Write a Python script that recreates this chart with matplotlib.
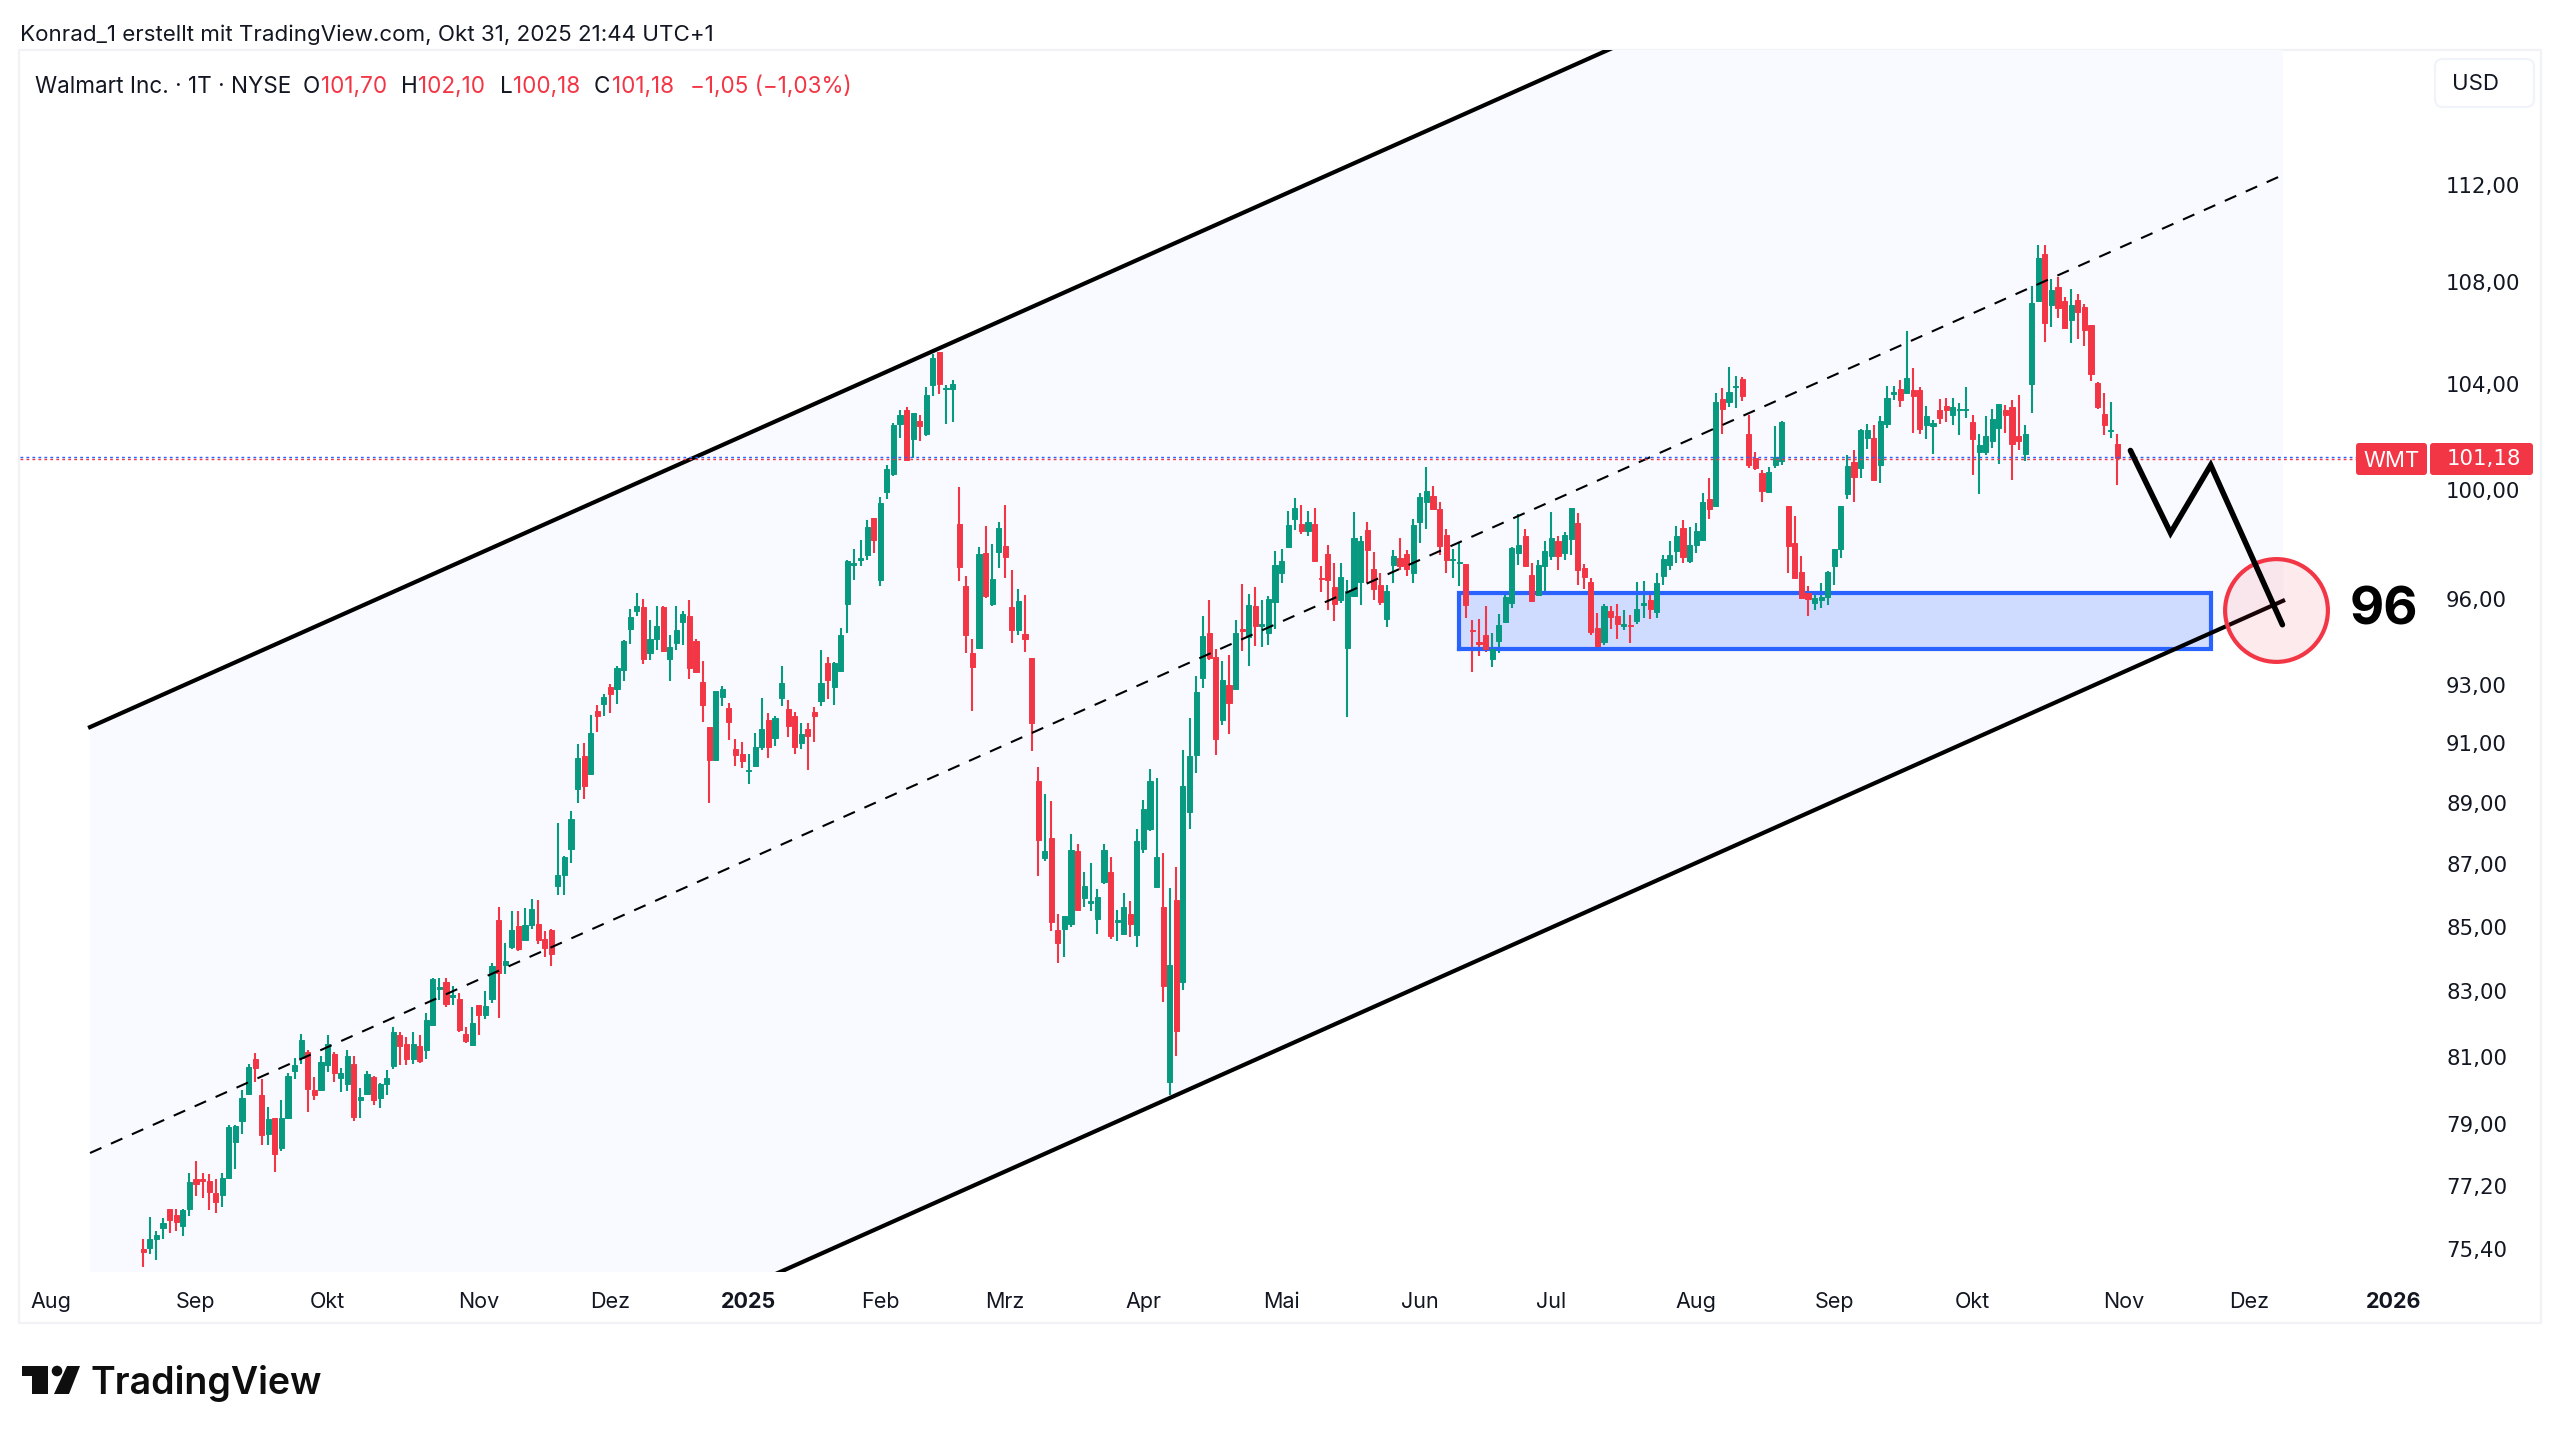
import matplotlib
matplotlib.use("Agg")
import matplotlib.pyplot as plt
from matplotlib.patches import Rectangle, FancyBboxPatch, Polygon, Circle

plt.rcParams["font.family"] = ["Inter", "DejaVu Sans"]

# daily candles, Aug 21 2024 to Oct 31 2025
opens = [
    75.40,75.45,75.70,75.99,76.55,76.37,76.06,76.54,77.41,77.41,
    77.33,76.99,76.93,77.43,78.47,79.09,79.87,80.92,79.84,78.71,
    79.16,78.30,79.16,80.56,80.97,81.13,79.99,79.99,80.74,81.08,
    80.37,80.17,80.77,79.70,79.88,80.40,79.76,80.17,80.73,81.64,
    81.37,80.94,81.31,81.19,81.96,83.06,83.28,82.82,82.76,81.68,
    81.36,82.58,82.26,82.74,85.22,83.82,84.36,85.03,84.60,85.06,
    85.09,84.61,84.90,86.29,86.67,87.51,89.48,90.56,89.96,92.09,
    92.34,92.91,92.86,93.50,94.94,95.58,95.73,94.09,94.60,95.73,
    93.88,94.45,95.19,95.41,94.54,93.09,91.57,90.45,92.58,92.21,
    90.80,90.65,90.06,90.23,90.87,91.78,91.19,92.55,92.16,91.92,
    91.02,91.47,92.06,92.43,93.77,92.92,93.48,95.85,97.24,97.43,
    97.61,98.95,96.69,99.91,100.57,102.46,103.00,101.88,102.58,102.08,
    103.97,105.26,103.79,103.79,98.74,96.49,94.12,94.27,97.67,95.83,
    97.72,97.94,95.74,94.91,94.77,93.93,89.72,87.22,87.85,84.90,
    84.92,85.08,87.42,85.93,85.76,85.26,86.43,86.76,85.16,84.76,
    85.42,84.73,87.48,88.14,86.27,85.63,80.23,85.84,83.29,88.71,
    90.62,93.23,94.80,93.98,91.78,92.99,92.87,94.96,94.66,95.76,
    95.07,94.80,95.89,96.96,97.89,98.91,98.71,98.48,98.71,96.76,
    97.65,96.45,95.96,94.28,96.11,96.61,98.50,97.10,96.53,95.30,
    97.25,97.49,97.62,96.93,98.81,99.53,99.76,99.27,98.33,97.40,
    97.30,97.27,94.93,94.49,94.73,93.91,94.54,95.21,95.87,97.68,
    98.27,96.88,96.17,97.19,97.57,98.09,97.67,98.18,98.78,97.13,
    96.63,95.00,94.48,95.59,95.40,95.07,95.10,95.23,95.80,95.98,
    95.54,96.83,97.22,97.74,98.57,97.38,97.95,98.15,99.64,99.39,
    103.43,103.30,103.90,104.20,102.09,101.18,100.61,99.92,100.90,101.08,
    99.39,98.03,96.97,96.23,95.88,95.97,96.09,97.19,97.80,99.84,
    101.02,100.80,101.93,101.93,100.93,102.48,103.63,103.80,103.67,103.76,
    103.76,102.41,102.37,102.99,103.17,102.82,103.01,103.01,102.53,101.41,
    101.40,101.82,102.33,102.99,103.10,102.01,101.33,104.00,107.25,109.13,
    107.11,107.80,107.27,106.50,107.31,107.00,106.29,104.02,102.85,102.18,
    101.70,
]
highs = [
    75.69,76.32,75.91,76.29,76.55,76.54,76.55,77.56,77.91,77.56,
    77.53,77.41,77.56,78.97,78.97,79.99,80.79,81.11,80.34,79.50,
    79.16,79.70,80.52,80.97,81.68,81.20,80.40,81.03,81.64,81.13,
    80.67,81.20,81.02,80.06,80.56,80.43,80.22,80.61,81.90,81.75,
    81.59,81.75,81.64,82.33,83.40,83.39,83.39,83.15,82.93,81.90,
    82.52,82.58,82.99,83.88,85.62,84.48,85.51,85.51,85.60,85.88,
    85.86,84.87,84.93,88.34,87.27,88.73,90.98,91.01,91.95,92.30,
    92.70,93.04,93.64,94.56,95.64,96.24,96.00,95.28,95.77,95.77,
    94.74,95.75,95.57,95.96,94.61,93.81,91.57,92.77,92.97,92.39,
    91.15,91.03,90.65,91.36,92.55,92.02,91.92,93.64,92.49,92.06,
    91.70,91.70,92.22,94.21,93.98,93.80,94.98,97.43,97.80,98.13,
    98.89,98.95,99.74,100.92,102.50,103.00,103.10,102.90,102.82,103.87,
    105.18,105.26,103.95,104.15,100.08,96.82,94.61,97.87,98.66,98.01,
    98.81,99.44,97.04,96.36,96.14,93.93,90.20,89.31,89.06,85.42,
    85.36,87.98,87.66,86.76,87.05,86.20,87.65,87.25,85.55,86.09,
    85.81,88.14,89.09,90.14,89.83,87.35,86.23,86.92,90.76,91.87,
    93.31,95.41,95.99,94.25,93.84,94.04,95.27,96.54,96.18,96.45,
    95.98,96.12,97.74,97.83,99.19,99.70,99.44,99.20,99.31,97.18,
    97.96,97.31,97.31,96.70,99.16,98.27,98.80,97.71,96.95,96.53,
    97.76,98.21,97.76,98.90,99.86,100.85,100.12,99.55,98.55,97.83,
    98.06,97.28,95.27,95.29,95.76,94.82,95.49,96.29,97.89,99.08,
    98.54,97.31,97.43,98.09,99.16,98.30,98.43,99.31,99.12,97.27,
    96.77,95.53,95.82,95.76,95.82,95.63,95.45,96.63,96.67,96.25,
    96.95,97.61,98.09,98.67,98.86,98.61,98.76,99.86,100.42,103.64,
    103.86,104.67,104.31,104.26,102.79,101.42,100.73,100.85,102.39,102.58,
    99.40,99.02,97.55,96.47,96.29,96.57,97.00,97.83,99.40,101.30,
    101.46,102.29,102.46,102.41,102.75,103.94,103.94,104.16,106.07,104.61,
    103.90,103.17,102.62,103.42,103.47,103.47,103.28,103.90,102.80,102.09,
    102.77,103.03,103.22,103.20,103.39,103.58,102.42,107.87,109.52,109.52,
    108.12,108.21,107.43,107.72,107.52,107.12,106.29,104.07,103.64,103.32,
    102.10,
]
lows = [
    74.90,75.26,75.11,75.70,75.86,75.91,75.79,76.34,76.90,76.85,
    76.51,76.42,76.60,77.39,77.68,78.71,79.84,80.25,78.39,78.39,
    77.60,78.22,79.13,80.34,80.79,79.35,79.69,79.96,80.55,80.25,
    79.94,79.96,79.09,79.16,79.85,79.55,79.46,79.85,80.64,80.74,
    80.74,80.79,80.82,80.92,81.93,82.71,82.52,82.57,81.75,81.40,
    81.33,81.65,82.13,82.63,82.16,83.53,84.31,84.23,84.58,84.93,
    84.45,84.05,83.77,86.01,86.01,87.03,89.01,89.14,89.92,91.38,
    91.92,92.04,92.35,93.14,94.43,95.42,93.71,93.87,94.20,94.15,
    93.14,94.20,94.38,93.21,93.43,91.71,89.01,90.43,92.27,91.10,
    90.23,90.16,89.62,90.23,90.77,90.51,90.91,92.28,91.22,90.65,
    90.80,90.11,91.04,92.27,92.52,92.29,93.43,94.82,96.69,97.20,
    97.43,97.68,96.47,99.65,100.50,101.92,101.09,101.19,101.82,102.00,
    103.52,103.60,102.46,102.54,96.65,94.09,92.10,94.23,96.05,95.78,
    97.13,96.78,94.46,94.73,94.14,90.75,86.61,87.12,84.87,83.86,
    84.06,85.00,85.49,85.62,85.49,84.78,86.36,84.62,84.57,84.76,
    84.68,84.36,87.37,88.09,86.27,82.66,79.85,81.02,83.02,88.14,
    89.99,92.88,93.85,90.59,91.61,91.33,92.85,94.16,93.64,94.34,
    94.32,94.39,94.94,96.58,97.85,98.52,98.37,98.27,97.36,96.27,
    95.61,95.24,95.88,91.91,96.08,95.81,96.59,95.98,95.81,95.02,
    96.57,97.05,96.83,96.58,98.05,98.56,99.28,97.61,96.95,96.75,
    96.47,95.34,93.43,94.00,94.13,93.62,94.12,95.21,95.68,97.25,
    97.15,95.90,96.15,96.29,97.43,97.05,97.43,97.60,96.51,96.38,
    94.74,94.24,94.37,94.94,94.61,94.92,94.45,95.11,95.35,95.31,
    95.34,96.51,97.05,97.31,97.30,97.31,97.67,98.13,98.90,99.39,
    102.09,103.13,103.09,103.35,100.80,100.71,99.53,99.87,100.80,100.90,
    96.95,96.75,96.06,95.41,95.62,95.70,95.81,96.51,97.50,99.64,
    99.53,100.41,101.52,100.37,100.26,102.33,103.38,103.13,103.67,102.11,
    102.09,101.90,101.33,102.48,102.54,102.44,102.04,102.70,100.55,99.85,
    101.30,101.57,100.95,102.11,100.34,101.49,101.07,102.87,107.25,105.65,
    106.21,106.57,106.17,105.61,105.75,105.49,104.13,103.02,102.06,101.94,
    100.18,
]
closes = [
    75.34,75.69,75.80,76.13,76.23,76.18,76.51,77.31,77.25,77.33,
    77.04,76.74,77.43,78.90,78.93,79.76,80.70,80.67,78.68,79.13,
    78.12,79.16,80.41,80.74,81.50,80.02,79.85,80.83,81.39,80.52,
    80.52,81.02,79.19,79.79,80.49,79.69,80.19,80.37,81.75,81.31,
    80.94,81.39,80.88,82.12,83.37,83.12,82.60,82.87,81.79,81.46,
    82.02,82.27,82.55,83.77,83.55,83.94,84.90,84.29,85.06,85.57,
    84.58,84.34,84.16,86.67,87.24,88.48,90.50,89.58,91.36,91.93,
    92.58,92.69,93.58,94.51,95.37,95.78,93.88,94.60,95.05,94.16,
    94.31,94.92,95.48,93.60,93.46,92.30,90.43,92.77,92.86,91.71,
    90.62,90.41,90.11,90.86,91.50,90.89,91.87,93.06,91.59,90.87,
    91.31,91.26,91.92,93.06,93.17,93.77,94.75,97.39,97.31,97.50,
    98.61,98.13,99.51,100.75,102.42,102.82,101.11,102.90,102.40,103.56,
    105.02,104.01,103.85,103.99,97.15,94.73,93.63,97.65,96.12,96.74,
    98.57,97.52,94.91,95.94,94.61,91.68,87.78,87.42,85.16,84.49,
    85.36,87.45,85.54,86.30,85.81,85.96,87.45,84.70,85.21,85.62,
    85.10,87.76,88.82,89.72,87.23,83.16,83.82,81.76,89.56,90.57,
    92.76,94.71,93.94,91.14,93.18,92.36,94.80,94.89,95.80,95.05,
    95.14,96.01,97.24,97.37,98.70,99.30,98.48,98.80,97.39,96.72,
    96.71,95.83,96.79,96.30,98.20,98.10,97.76,96.38,95.89,96.31,
    97.57,97.18,97.08,98.68,99.71,99.95,99.29,97.91,97.43,97.44,
    97.33,95.79,94.88,94.41,94.26,94.26,95.09,96.09,97.86,97.96,
    97.21,95.95,97.25,97.75,98.21,97.57,98.33,99.31,97.06,96.79,
    94.84,94.35,95.77,95.36,95.11,95.13,95.04,95.66,95.86,95.64,
    96.57,97.45,97.59,98.29,97.52,97.96,98.48,99.54,99.27,103.32,
    103.05,103.68,103.94,103.55,100.90,100.80,99.96,100.67,101.22,102.54,
    97.91,96.77,96.06,96.02,96.06,96.10,96.97,97.81,99.40,100.87,
    100.45,102.24,102.24,100.37,102.59,103.46,103.68,103.38,104.22,103.55,
    102.27,102.77,102.49,102.68,102.99,103.10,103.05,103.05,101.90,101.66,
    102.01,102.66,103.22,102.82,101.72,101.80,102.09,107.16,108.98,106.40,
    107.68,106.99,106.17,107.08,106.81,106.09,104.40,103.13,102.41,102.25,
    101.18,
]

# axis labels
month_pos = [-14, 8, 28, 51, 71, 92, 112, 131, 152, 173, 194, 214, 236, 257, 278, 301, 320, 342]
month_labels = ["Aug", "Sep", "Okt", "Nov", "Dez", "2025", "Feb", "Mrz", "Apr", "Mai",
                "Jun", "Jul", "Aug", "Sep", "Okt", "Nov", "Dez", "2026"]
price_ticks = [112, 108, 104, 100, 96, 93, 91, 89, 87, 85, 83, 81, 79, 77.2, 75.4]
price_labels = ["112,00", "108,00", "104,00", "100,00", "96,00", "93,00", "91,00", "89,00",
                "87,00", "85,00", "83,00", "81,00", "79,00", "77,20", "75,40"]

# drawings on the chart, in bar number and price
channel_x = [-8.1, 325.2]
channel_top = [91.55, 131.68]
channel_mid = [78.15, 112.40]
channel_bot = [66.68, 95.95]
zone_x = [199.9, 314.2]
zone_price = [94.25, 96.21]
path_x = [302, 308.1, 314.2, 325.1]
path_price = [101.46, 98.40, 100.91, 95.10]
target_x = 324.1
target_price = 95.63
last_price = 101.18

GREEN = "#089981"
RED = "#F23645"
BLUE = "#2962FF"
TEXT = "#131722"

W, H = 2560, 1438
fig = plt.figure(figsize=(W / 100, H / 100), dpi=100, facecolor="white")

# page layer in pixels: frame, header, footer, labels
page = fig.add_axes([0, 0, 1, 1], zorder=0)
page.set_xlim(0, W)
page.set_ylim(H, 0)
page.axis("off")
page.add_patch(Rectangle((19, 50), 2522, 1273, fill=False, ec="#F1F2F5", lw=1.6))
page.text(20, 35, "Konrad_1 erstellt mit TradingView.com, Okt 31, 2025 21:44 UTC+1",
          fontsize=16.1, color=TEXT, va="center")

# logo
page.add_patch(Polygon([(22, 1366), (48, 1366), (48, 1394), (32, 1394), (32, 1376), (22, 1376)],
                       fc="#0E0E0E", ec="none"))
page.add_patch(Circle((57, 1371), 5.3, fc="#0E0E0E", ec="none"))
page.add_patch(Polygon([(67, 1366), (80, 1366), (69, 1394), (54, 1394)], fc="#0E0E0E", ec="none"))
page.text(91, 1383, "TradingView", fontsize=27, fontweight="semibold", color="#0E0E0E", va="center")

# chart pane
ax = fig.add_axes([20 / W, 1 - 1272 / H, (2541 - 20) / W, (1272 - 50) / H], zorder=1)
ax.patch.set_alpha(0)
ax.set_yscale("log")
ax.set_xlim(-18.74, 364.4)
ax.set_ylim(74.77, 117.74)
for s in ax.spines.values():
    s.set_visible(False)

ax.fill_between(channel_x, channel_bot, channel_top, color="#F9FAFF", lw=0, zorder=1)

# zone
ax.fill_between(zone_x, zone_price[0], zone_price[1], color=BLUE, alpha=0.2, lw=0, zorder=2)

# candles
for i in range(len(opens)):
    col = GREEN if closes[i] >= opens[i] else RED
    ax.vlines(i, lows[i], highs[i], color=col, lw=1.5, zorder=3)
    ax.bar(i, abs(closes[i] - opens[i]), bottom=min(opens[i], closes[i]), width=0.78,
           color=col, ec=col, lw=0.7, zorder=4)

ax.plot([zone_x[0], zone_x[1], zone_x[1], zone_x[0], zone_x[0]],
        [zone_price[0], zone_price[0], zone_price[1], zone_price[1], zone_price[0]],
        color=BLUE, lw=3, solid_joinstyle="miter", zorder=3.5)

# channel
ax.plot(channel_x, channel_top, color="black", lw=3, zorder=5)
ax.plot(channel_x, channel_bot, color="black", lw=3, zorder=5)
ax.plot(channel_x, channel_mid, color="black", lw=1.5, dashes=(6, 5), zorder=5)

# last price line: blue dots sitting right above red ones
ax.hlines(last_price * 0.9996, -18.74, 2356 / 6.58 - 21.8, color=RED, lw=1.0,
          linestyles=[(0, (2.0, 2.3))], zorder=5)
ax.hlines(last_price * 1.0002, -18.74, 2356 / 6.58 - 21.8, color=BLUE, lw=1.0,
          linestyles=[(0, (2.0, 2.3))], zorder=5)

# target circle and expected move
ax.plot([target_x], [target_price], "o", ms=74, mfc=(0.949, 0.212, 0.271, 0.1), mec=RED, mew=3, zorder=6)
ax.plot(path_x, path_price, color="black", lw=4, solid_capstyle="round", solid_joinstyle="miter", zorder=7)

ax.set_xticks(month_pos, month_labels)
ax.set_yticks(price_ticks, price_labels)
ax.minorticks_off()
ax.yaxis.tick_right()
ax.tick_params(axis="x", length=0, pad=14.5, labelsize=15.5, labelcolor=TEXT)
ax.tick_params(axis="y", length=0, pad=-(2541 - 2446) * 0.72, labelsize=15.3, labelcolor=TEXT)
for lab in ax.get_yticklabels():
    lab.set_ha("left")
    lab.set_fontfamily("DejaVu Sans")
for lab in ax.get_xticklabels():
    if lab.get_text() in ("2025", "2026"):
        lab.set_fontweight("bold")

# overlay layer: legend, currency box, price label
top = fig.add_axes([0, 0, 1, 1], zorder=2)
top.set_xlim(0, W)
top.set_ylim(H, 0)
top.axis("off")

legend_y = 87
top.text(35, legend_y, "Walmart Inc. · 1T · NYSE", fontsize=16.2, color=TEXT, va="center")
for x, s, c in [(303, "O", TEXT), (321, "101,70", RED), (401, "H", TEXT), (418, "102,10", RED),
                (500, "L", TEXT), (513, "100,18", RED), (594, "C", TEXT), (612, "101,18", RED),
                (690, "−1,05 (−1,03%)", RED)]:
    top.text(x, legend_y, s, fontsize=16.2, color=c, va="center")

top.add_patch(FancyBboxPatch((2439, 63), 91, 40, boxstyle="round,pad=4,rounding_size=8",
                             fc="white", ec="#F0F3FA", lw=1.5))
top.text(2476, 84, "USD", fontsize=16, color=TEXT, ha="center", va="center")

top.add_patch(FancyBboxPatch((2358, 445), 67, 28, boxstyle="round,pad=2,rounding_size=3", fc=RED, ec="none"))
top.add_patch(FancyBboxPatch((2432, 445), 99, 28, boxstyle="round,pad=2,rounding_size=3", fc=RED, ec="none"))
top.text(2392, 461, "WMT", fontsize=16, color="white", ha="center", va="center")
top.text(2484, 459, "101,18", fontsize=15.3, color="white", ha="center", va="center",
         family="DejaVu Sans")

top.text(2384, 611, "96", fontsize=38, fontweight="bold", color="black", ha="center", va="center")

fig.savefig("out.png", dpi=100)
